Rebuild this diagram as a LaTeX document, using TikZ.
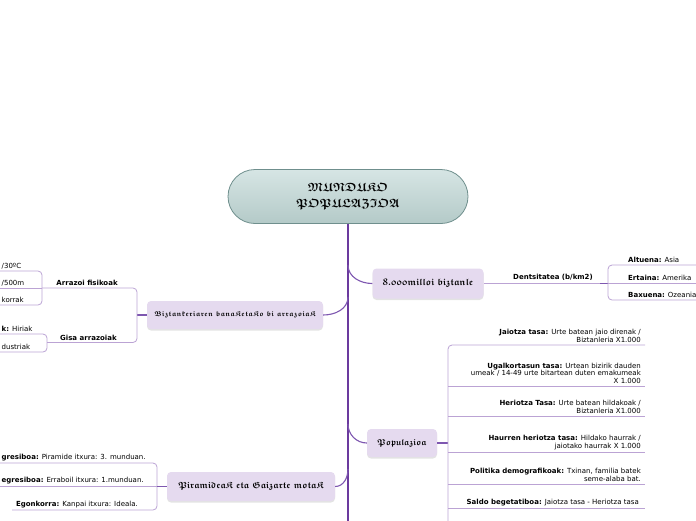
\documentclass[tikz,border=0pt]{standalone}
\usepackage{fontspec}
\setsansfont{DejaVu Sans}
\DeclareFontFamily{U}{euf}{}
\DeclareFontShape{U}{euf}{m}{n}{<-6>eufm5<6-8>eufm7<8->eufm10}{}
\DeclareFontShape{U}{euf}{b}{n}{<-6>eufb5<6-8>eufb7<8->eufb10}{}
\usepackage{amssymb}
\usetikzlibrary{shadows}
\newcommand{\frk}[1]{\ensuremath{\mathfrak{#1}}}
\definecolor{trunkc}{HTML}{6B3A9E}
\definecolor{branchc}{HTML}{7E57B0}
\definecolor{subc}{HTML}{BBA3D4}
\definecolor{nodefill}{HTML}{E5DAEF}
\definecolor{ctop}{HTML}{D6E5E4}
\definecolor{cbot}{HTML}{B4CAC8}
\definecolor{cborder}{HTML}{6F8F8D}
\tikzset{
  central/.style={draw=cborder, line width=0.8pt, top color=ctop, bottom color=cbot,
    rounded corners=27pt, minimum width=240pt, minimum height=54pt, align=center,
    font=\fontsize{12}{15}\selectfont\boldmath, inner sep=0pt},
  topic/.style={fill=nodefill, rounded corners=4pt, inner sep=0pt,
    drop shadow={opacity=0.22, shadow xshift=0pt, shadow yshift=-1.5pt},
    font=\fontsize{9.3}{11}\selectfont\boldmath},
  trunkline/.style={draw=trunkc, line width=2.6pt},
  branchline/.style={draw=branchc, line width=1.1pt},
  subline/.style={draw=subc, line width=0.8pt, rounded corners=4pt},
  lbl/.style={font=\sffamily\fontsize{7}{7.8}\selectfont, inner sep=1pt, text=black},
}
\begin{document}
\begin{tikzpicture}[x=1pt,y=-1pt]
\useasboundingbox (0,0) rectangle (696,520);

% trunk
\coordinate (tend) at (348,522);
\coordinate (t1) at (348,265);
\coordinate (t2) at (348,297);
\coordinate (t3) at (348,424);
\coordinate (t4) at (348,469);

\node[central] (root) at (348,196.5) {\frk{MUNDUKO}\\[1pt]\frk{POPULAZIOA}};
\draw[trunkline] (root.south) -- (tend);

% topics
\node[topic, minimum width=111pt, minimum height=30pt] (dens) at (428,283.5) {\frk{8.000milloi\ biztanle}};
\node[topic, minimum width=176pt, minimum height=28pt, font=\fontsize{7}{9}\selectfont\boldmath] (biz) at (235,315) {\frk{Biztankeriaren\ banaKetaKo\ bi\ arrazoiaK}};
\node[topic, minimum width=70pt, minimum height=28pt, font=\fontsize{8.6}{10}\selectfont\boldmath] (pop) at (402,443) {\frk{Populazioa}};
\node[topic, minimum width=168pt, minimum height=29pt, font=\fontsize{9}{11}\selectfont\boldmath] (pyr) at (251,486.5) {\frk{PiramideaK\ eta\ Gaizarte\ motaK}};

\draw[branchline] (t1) to[out=270,in=180] (dens.west);
\draw[branchline] (t2) to[out=270,in=0] (biz.east);
\draw[branchline] (t3) to[out=270,in=180] (pop.west);
\draw[branchline] (t4) to[out=270,in=0] (pyr.east);

% ---- Dentsitatea
\coordinate (db) at (608,283.5);
\draw[subline] (dens.east) -- (db);
\draw[branchline] (600,283.5) -- (db);
\node[lbl, anchor=south] (dlab) at (553,282) {\textbf{Dentsitatea (b/km2)}};
\draw[subline] (697,265) -- (608,265) -- (608,300) -- (697,300);
\draw[subline] (db) -- (697,283.5);
\node[lbl, anchor=south west] (d1) at (627,264) {\textbf{Altuena:} Asia};
\node[lbl, anchor=south west] (d2) at (627,282) {\textbf{Ertaina:} Amerika};
\node[lbl, anchor=south west] (d3) at (627,299) {\textbf{Baxuena:} Ozeania};

% ---- Biztanleria
\coordinate (bb) at (137,315);
\draw[branchline] (biz.west) -- (bb);
\draw[subline] (42,288) -- (137,288) -- (137,342.5) -- (47,342.5);
\node[lbl, anchor=south east] (a1) at (119,287) {\textbf{Arrazoi fisikoak}};
\node[lbl, anchor=south east] (a2) at (118,341.5) {\textbf{Gisa arrazoiak}};
\draw[subline] (-1,271) -- (42,271) -- (42,305) -- (-1,305);
\draw[subline] (-1,288) -- (42,288);
\node[lbl, anchor=south west] (f1) at (0.5,270) {/30ºC};
\node[lbl, anchor=south west] (f2) at (0.5,287) {/500m};
\node[lbl, anchor=south west] (f3) at (0.5,304) {korrak};
\draw[subline] (-1,334) -- (47,334) -- (47,352) -- (-1,352);
\node[lbl, anchor=south west] (g1) at (0.5,333) {\textbf{k:} Hiriak};
\node[lbl, anchor=south west] (g2) at (0.5,351) {dustriak};

% ---- Piramideak
\coordinate (pb) at (157,486.5);
\draw[subline] (-1,463) -- (157,463) -- (157,510) -- (12,510);
\draw[subline] (-1,486.5) -- (pb);
\draw[branchline] (pyr.west) -- (pb);
\node[lbl, anchor=south west] (p1) at (0.5,462) {\textbf{gresiboa:} Piramide itxura: 3. munduan.};
\node[lbl, anchor=south west] (p2) at (0.5,485.5) {\textbf{egresiboa:} Erraboil itxura: 1.munduan.};
\node[lbl, anchor=south east] (p3) at (139,509) {\textbf{Egonkorra:} Kanpai itxura: Ideala.};

% ---- Populazioa
\coordinate (qb) at (448,443);
\draw[branchline] (pop.east) -- (qb);
\draw[subline] (645,345) -- (448,345) -- (448,524);
\foreach \yy in {386,416,452,484,508} {\draw[subline] (448,\yy) -- (645,\yy);}
\node[lbl, anchor=south east, align=right] (q1) at (642,344) {\textbf{Jaiotza tasa:} Urte batean jaio direnak /\\Biztanleria X1.000};
\node[lbl, anchor=south east, align=right] (q2) at (642,385) {\textbf{Ugalkortasun tasa:} Urtean bizirik dauden\\umeak / 14-49 urte bitartean duten emakumeak\\X 1.000};
\node[lbl, anchor=south east, align=right] (q3) at (642,415) {\textbf{Heriotza Tasa:} Urte batean hildakoak /\\Biztanleria X1.000};
\node[lbl, anchor=south east, align=right] (q4) at (642,451) {\textbf{Haurren heriotza tasa:} Hildako haurrak /\\jaiotako haurrak X 1.000};
\node[lbl, anchor=south east, align=right] (q5) at (642,483) {\textbf{Politika demografikoak:} Txinan, familia batek\\seme-alaba bat.};
\node[lbl, anchor=south east, align=right] (q6) at (640,507) {\textbf{Saldo begetatiboa:} Jaiotza tasa - Heriotza tasa};
\end{tikzpicture}
\end{document}
